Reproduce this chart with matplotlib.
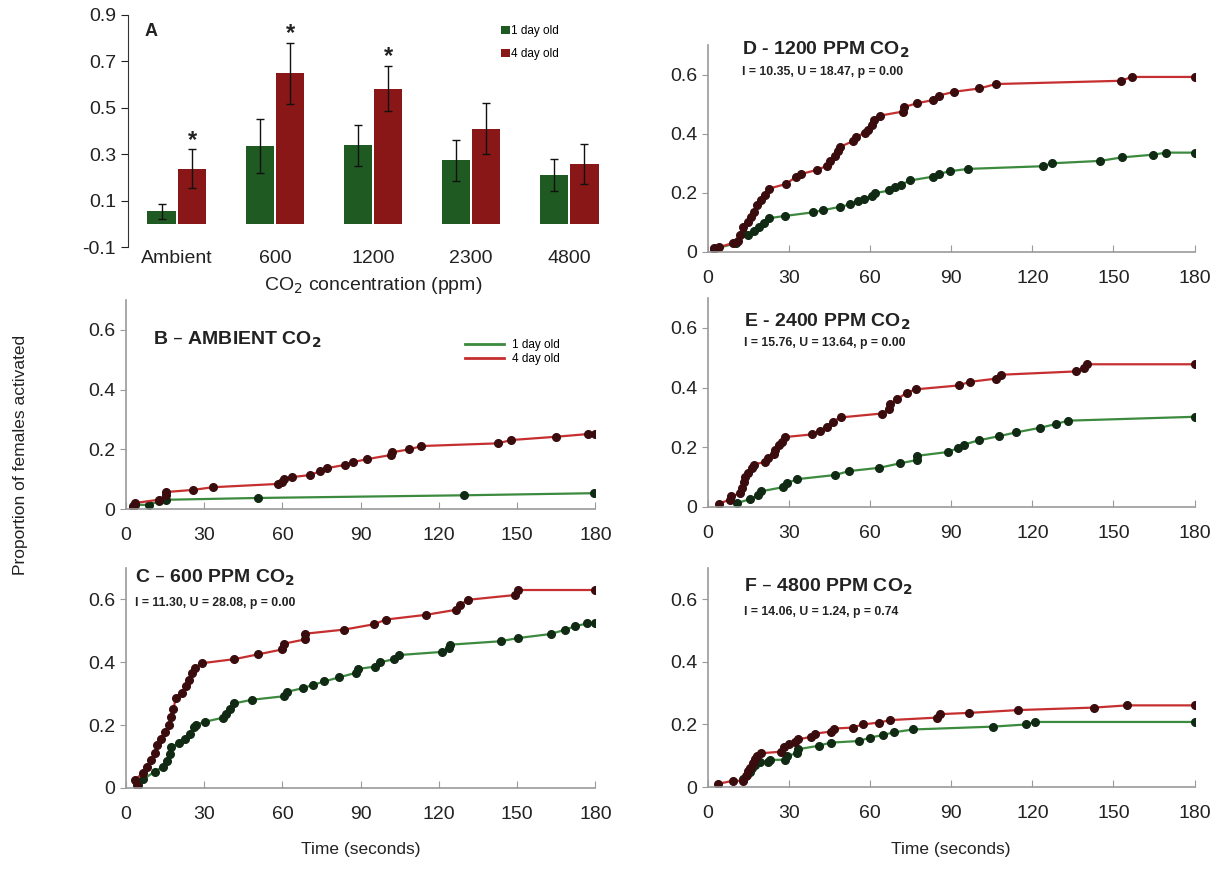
import matplotlib
matplotlib.use('Agg')
import matplotlib.pyplot as plt
from matplotlib.lines import Line2D
import numpy as np

plt.rcParams['font.family'] = ['Liberation Sans', 'DejaVu Sans']

# Panel A: bar chart
conc_labels = ['Ambient', '600', '1200', '2300', '4800']
one_day_mean = [0.055, 0.336, 0.339, 0.274, 0.212]
one_day_err = [0.032, 0.118, 0.088, 0.089, 0.069]
four_day_mean = [0.238, 0.648, 0.583, 0.411, 0.26]
four_day_err = [0.083, 0.132, 0.098, 0.108, 0.086]
significant = [True, True, True, False, False]

# Panel B - ambient
b_t1 = [2.6, 3.4, 9, 12.5, 15.5, 50.6, 129.7, 179.5]
b_p1 = [0.009, 0.014, 0.014, 0.026, 0.031, 0.037, 0.046, 0.053]
b_t4 = [2.6, 3.4, 12.5, 15.5, 15.5, 25.7, 33.3, 58.2, 60, 60.5, 63.8, 70.7, 74.2, 77.2,
        84, 87, 92.4, 101.6, 102, 108.7, 113.3, 142.7, 147.6, 164.8, 177, 180]
b_p4 = [0.007, 0.02, 0.031, 0.048, 0.057, 0.064, 0.073, 0.084, 0.092, 0.1, 0.107, 0.114, 0.126, 0.137,
        0.148, 0.157, 0.167, 0.181, 0.19, 0.2, 0.211, 0.22, 0.231, 0.242, 0.251, 0.251]

# Panel C - 600 ppm
c_t1 = [4.6, 6.7, 11, 14.1, 15.6, 16.8, 17.4, 20.2, 22.5, 24.5, 26, 26.8, 30.4, 37.3, 38.5, 39.8,
        41.3, 48.5, 60.6, 61.8, 67.9, 71.7, 76, 81.7, 88.3, 89, 95.4, 97.4, 102.8, 104.6, 121.1,
        123.7, 124.2, 143.7, 150.2, 162.8, 168.5, 172, 176.9, 180]
c_p1 = [0.01, 0.028, 0.052, 0.068, 0.085, 0.109, 0.13, 0.143, 0.156, 0.172, 0.193, 0.201, 0.211,
        0.224, 0.236, 0.252, 0.269, 0.281, 0.292, 0.306, 0.318, 0.328, 0.339, 0.352, 0.367, 0.379,
        0.386, 0.4, 0.41, 0.423, 0.433, 0.445, 0.456, 0.467, 0.477, 0.49, 0.504, 0.514, 0.524, 0.524]
c_t4 = [4.1, 3.4, 6.4, 7.9, 9.5, 11, 12, 13.3, 14.8, 16.4, 17.1, 18.2, 19.1, 21.4, 22.9, 24, 25.2,
        26.3, 29, 41.6, 50.5, 60, 60.4, 68.8, 68.8, 83.6, 95.1, 99.7, 115, 126.5, 128, 131.3,
        149.1, 150.2, 180]
c_p4 = [0.01, 0.026, 0.047, 0.068, 0.089, 0.11, 0.136, 0.157, 0.178, 0.199, 0.225, 0.251, 0.287,
        0.303, 0.324, 0.345, 0.366, 0.381, 0.397, 0.41, 0.425, 0.441, 0.459, 0.473, 0.491, 0.504,
        0.521, 0.536, 0.551, 0.567, 0.583, 0.599, 0.614, 0.63, 0.63]

# Panel D - 1200 ppm
d_t1 = [2.4, 10.5, 13, 14.7, 16.9, 19, 20.7, 22.5, 28.6, 38.8, 42.4, 49, 52.7, 55.5, 57.9, 60.8,
        61.9, 67.1, 69.3, 71.4, 74.9, 83.4, 85.5, 89.4, 96.2, 123.8, 127.3, 145, 153.2, 164.6,
        169.5, 180]
d_p1 = [0.01, 0.03, 0.063, 0.058, 0.071, 0.086, 0.099, 0.114, 0.122, 0.134, 0.141, 0.153, 0.161,
        0.171, 0.18, 0.191, 0.199, 0.208, 0.219, 0.228, 0.242, 0.255, 0.264, 0.273, 0.281, 0.29,
        0.3, 0.308, 0.32, 0.329, 0.336, 0.336]
d_t4 = [2.4, 4.1, 9.1, 11.2, 11.9, 13, 14.7, 15.9, 16.9, 18.3, 19.7, 21.1, 22.5, 28.9, 32.4, 34.6,
        40.5, 44.1, 45.2, 47, 48, 49, 53.7, 54.7, 58, 59.3, 60.8, 61.5, 63.6, 72.1, 72.5, 77.3,
        83.4, 85.3, 91.2, 100.4, 106.5, 152.8, 156.7, 180]
d_p4 = [0.013, 0.016, 0.03, 0.036, 0.058, 0.086, 0.102, 0.119, 0.136, 0.158, 0.175, 0.192, 0.214,
        0.23, 0.253, 0.264, 0.278, 0.292, 0.308, 0.325, 0.342, 0.356, 0.375, 0.389, 0.403, 0.414,
        0.429, 0.445, 0.461, 0.475, 0.49, 0.503, 0.514, 0.529, 0.542, 0.553, 0.568, 0.579, 0.592,
        0.592]

# Panel E - 2400 ppm
e_t1 = [10.9, 15.5, 18.7, 19.5, 27.7, 29.1, 33, 47.1, 52.1, 63.3, 71, 77.2, 77.2, 88.7, 92.5,
        94.7, 100.1, 107.6, 114.1, 122.8, 128.8, 133.1, 180]
e_p1 = [0.013, 0.026, 0.039, 0.052, 0.066, 0.079, 0.093, 0.107, 0.12, 0.131, 0.146, 0.157, 0.171,
        0.184, 0.197, 0.209, 0.223, 0.237, 0.25, 0.265, 0.278, 0.289, 0.302]
e_t4 = [4.0, 8.0, 8.6, 11.9, 12.6, 13.3, 13.8, 14.8, 16.2, 16.9, 21.2, 22.4, 24.5, 24.8, 26.3,
        27.3, 28.4, 38.5, 41.3, 44.2, 46.1, 49.2, 64.3, 66.9, 67.4, 70, 73.6, 76.8, 92.7, 96.8,
        106.6, 108.5, 136, 139.2, 140.3, 180]
e_p4 = [0.011, 0.024, 0.035, 0.046, 0.063, 0.085, 0.101, 0.115, 0.129, 0.142, 0.151, 0.164, 0.179,
        0.192, 0.206, 0.219, 0.234, 0.243, 0.256, 0.269, 0.286, 0.3, 0.313, 0.327, 0.344, 0.361,
        0.383, 0.394, 0.407, 0.419, 0.43, 0.443, 0.454, 0.467, 0.478, 0.478]

# Panel F - 4800 ppm
f_t1 = [13.1, 14.3, 15.4, 16.4, 17.4, 19.3, 22.1, 22.8, 28.5, 29.2, 32.8, 33.5, 41, 45.4, 55.9,
        59.9, 64.6, 68.8, 75.9, 105.3, 117.7, 120.8, 180]
f_p1 = [0.025, 0.039, 0.048, 0.06, 0.071, 0.081, 0.081, 0.087, 0.087, 0.099, 0.108, 0.121, 0.132,
        0.142, 0.147, 0.158, 0.166, 0.175, 0.184, 0.193, 0.2, 0.208, 0.208]
f_t4 = [3.6, 9.3, 13.1, 14, 15, 15.7, 16.7, 17.4, 18.3, 19.7, 27.1, 28.2, 30, 32.1, 33.5, 38.2,
        39.7, 45.4, 46.8, 53.5, 57.3, 63.2, 67.5, 84.9, 85.9, 96.7, 114.8, 142.9, 155.1, 180]
f_p4 = [0.01, 0.02, 0.02, 0.034, 0.05, 0.062, 0.076, 0.089, 0.1, 0.108, 0.113, 0.129, 0.138, 0.145,
        0.152, 0.161, 0.171, 0.177, 0.187, 0.19, 0.2, 0.206, 0.214, 0.222, 0.233, 0.237, 0.246,
        0.254, 0.261, 0.261]

green_bar = '#1f5a22'
red_bar = '#8a1717'
green_line = '#3b8a3e'
red_line = '#c62f2f'
green_mk = '#102a14'
red_mk = '#3a0c0e'
spine_col = '#9a9a9a'
txt = '#222222'

fig = plt.figure(figsize=(12.29, 8.74), dpi=100)

# ---- Panel A ----
axA = fig.add_axes([0.104, 0.717, 0.399, 0.266])
x = np.arange(len(conc_labels))
w = 0.29
axA.bar(x - 0.155, one_day_mean, w, yerr=one_day_err, color=green_bar, capsize=3,
        error_kw=dict(elinewidth=1, ecolor='#111111', capthick=1), label='1 day old')
axA.bar(x + 0.155, four_day_mean, w, yerr=four_day_err, color=red_bar, capsize=3,
        error_kw=dict(elinewidth=1, ecolor='#111111', capthick=1), label='4 day old')
for i, sig in enumerate(significant):
    if sig:
        axA.text(x[i] + 0.155, four_day_mean[i] + four_day_err[i] + 0.04, '*',
                 ha='center', va='center', fontsize=17, fontweight='bold', color=txt)
axA.set_xlim(-0.5, 4.5)
axA.set_ylim(-0.1, 0.9)
axA.set_yticks([-0.1, 0.1, 0.3, 0.5, 0.7, 0.9])
axA.set_yticklabels(['-0.1', '0.1', '0.3', '0.5', '0.7', '0.9'])
axA.set_xticks(x)
axA.set_xticklabels(conc_labels)
axA.tick_params(axis='x', length=0, labelsize=14, colors=txt, pad=2)
axA.tick_params(axis='y', length=5, labelsize=14, colors=txt, direction='out')
for s in ['top', 'right', 'bottom']:
    axA.spines[s].set_visible(False)
axA.spines['left'].set_color('#333333')
axA.text(0.035, 0.93, 'A', transform=axA.transAxes, fontsize=13, fontweight='bold',
         ha='left', va='center', color=txt)
axA.legend(loc='upper left', bbox_to_anchor=(0.74, 1.0), frameon=False, fontsize=8.5,
           handlelength=0.7, handleheight=0.7, handletextpad=0.1, labelspacing=0.9)
axA.set_xlabel('CO$_2$ concentration (ppm)', fontsize=14, color=txt, labelpad=6)


def line_panel(rect, t1, p1, t4, p4, title, stats, title_pos, stats_pos, xlabel=False, legend=False):
    ax = fig.add_axes(rect)
    ax.plot(t1, p1, '-o', color=green_line, lw=1.6, ms=5.5, mfc=green_mk, mec=green_mk)
    ax.plot(t4, p4, '-o', color=red_line, lw=1.6, ms=5.5, mfc=red_mk, mec=red_mk)
    ax.set_xlim(0, 180)
    ax.set_ylim(0, 0.7)
    ax.set_xticks([0, 30, 60, 90, 120, 150, 180])
    ax.set_yticks([0, 0.2, 0.4, 0.6])
    ax.set_yticklabels(['0', '0.2', '0.4', '0.6'])
    ax.tick_params(axis='x', direction='in', length=5, color=spine_col, labelsize=14,
                   labelcolor=txt, pad=13)
    ax.tick_params(axis='y', direction='out', length=4, color=spine_col, labelsize=14,
                   labelcolor=txt)
    for s in ['top', 'right']:
        ax.spines[s].set_visible(False)
    for s in ['left', 'bottom']:
        ax.spines[s].set_color(spine_col)
        ax.spines[s].set_linewidth(1.2)
    ax.text(title_pos[0], title_pos[1], title, transform=ax.transAxes, fontsize=14,
            fontweight='bold', ha='left', va='center', color=txt)
    if stats:
        ax.text(stats_pos[0], stats_pos[1], stats, transform=ax.transAxes, fontsize=8.8,
                fontweight='bold', ha='left', va='center', color=txt)
    if xlabel:
        ax.set_xlabel('Time (seconds)', fontsize=12.5, color=txt, labelpad=14)
    if legend:
        handles = [Line2D([], [], color=green_line, lw=2),
                   Line2D([], [], color=red_line, lw=2)]
        ax.legend(handles, ['1 day old', '4 day old'], loc='center left',
                  bbox_to_anchor=(0.7, 0.75), frameon=False, fontsize=8.5,
                  handlelength=3.3, handletextpad=0.7, labelspacing=0.15)
    return ax


line_panel([0.1025, 0.4176, 0.382, 0.2391], b_t1, b_p1, b_t4, b_p4,
           'B – AMBIENT CO$_\\mathbf{2}$', None, (0.058, 0.81), None, legend=True)
line_panel([0.1025, 0.0984, 0.382, 0.2517], c_t1, c_p1, c_t4, c_p4,
           'C – 600 PPM CO$_\\mathbf{2}$', 'I = 11.30, U = 28.08, p = 0.00',
           (0.02, 0.955), (0.02, 0.84), xlabel=True)
line_panel([0.576, 0.7117, 0.396, 0.2368], d_t1, d_p1, d_t4, d_p4,
           'D - 1200 PPM CO$_\\mathbf{2}$', 'I = 10.35, U = 18.47, p = 0.00',
           (0.07, 0.976), (0.07, 0.87))
line_panel([0.576, 0.420, 0.396, 0.239], e_t1, e_p1, e_t4, e_p4,
           'E - 2400 PPM CO$_\\mathbf{2}$', 'I = 15.76, U = 13.64, p = 0.00',
           (0.074, 0.885), (0.074, 0.785))
line_panel([0.576, 0.0995, 0.396, 0.2506], f_t1, f_p1, f_t4, f_p4,
           'F – 4800 PPM CO$_\\mathbf{2}$', 'I = 14.06, U = 1.24, p = 0.74',
           (0.074, 0.913), (0.074, 0.80), xlabel=True)

fig.text(0.017, 0.479, 'Proportion of females activated', rotation=90, ha='center',
         va='center', fontsize=12.5, color=txt)

fig.savefig('out.png', dpi=100)
